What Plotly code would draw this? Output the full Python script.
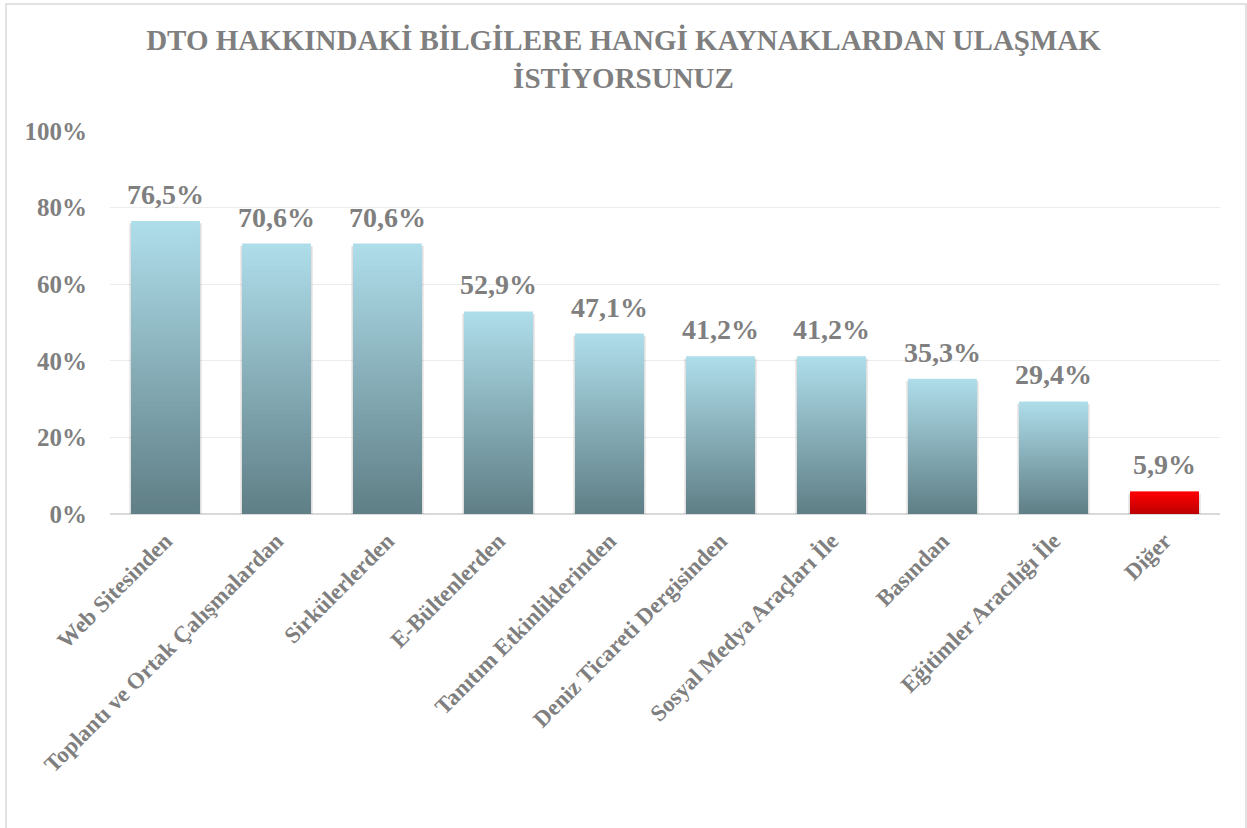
import plotly.graph_objects as go

categories = ["Web Sitesinden", "Toplantı ve Ortak Çalışmalardan", "Sirkülerlerden",
              "E-Bültenlerden", "Tanıtım Etkinliklerinden", "Deniz Ticareti Dergisinden",
              "Sosyal Medya Araçları İle", "Basından", "Eğitimler Aracılığı İle", "Diğer"]
values = [0.765, 0.706, 0.706, 0.529, 0.471, 0.412, 0.412, 0.353, 0.294, 0.059]
labels = ["76,5%", "70,6%", "70,6%", "52,9%", "47,1%", "41,2%", "41,2%", "35,3%", "29,4%", "5,9%"]

blue_top, blue_bot = (174, 221, 234), (96, 127, 134)
red_top, red_bot = (255, 0, 0), (190, 0, 0)
is_red = [c == "Diğer" for c in categories]

def lerp(a, b, t):
    return "rgb(%d,%d,%d)" % tuple(round(a[i] + (b[i] - a[i]) * t) for i in range(3))

GRAY = "#7f7f7f"
SERIF = "Liberation Serif"

fig = go.Figure()
# soft shadow behind bars
for w, a in [(0.66, 0.05), (0.645, 0.08)]:
    fig.add_trace(go.Bar(
        x=categories, y=values, base=-0.006, width=w,
        marker=dict(color="rgba(0,0,0,%s)" % a, line=dict(width=0)),
        showlegend=False, hoverinfo="skip", textposition="none",
    ))

N = 60
for k in range(N):
    t = k / (N - 1)
    frac = (N - k) / N
    cols = [lerp(red_top, red_bot, t) if r else lerp(blue_top, blue_bot, t) for r in is_red]
    fig.add_trace(go.Bar(
        x=categories, y=[v * frac for v in values],
        marker=dict(color=cols, line=dict(width=0)),
        width=0.62, showlegend=False, hoverinfo="skip",
        textposition="none",
    ))

for c, v, lab in zip(categories, values, labels):
    fig.add_annotation(x=c, y=v, text=lab, showarrow=False, yanchor="bottom", yshift=9,
                       font=dict(family=SERIF, size=28, color=GRAY, weight="bold"))

L, R, T, B = 110, 1220, 131, 514
H = B - T
W = R - L
fig.update_layout(
    barmode="overlay",
    width=1247, height=828,
    margin=dict(l=L, r=1247 - R, t=T, b=828 - B),
    paper_bgcolor="white", plot_bgcolor="white",
    font=dict(family=SERIF, color=GRAY),
    title=dict(text="DTO HAKKINDAKİ BİLGİLERE HANGİ KAYNAKLARDAN ULAŞMAK<br>İSTİYORSUNUZ",
               x=0.5, xanchor="center", y=1 - 50 / 828, yanchor="middle",
               font=dict(family=SERIF, size=29, color=GRAY, weight="bold")),
    xaxis=dict(tickangle=-45, showgrid=False, ticks="", showline=False, ticklabelstandoff=8,
               tickfont=dict(family=SERIF, size=23, color=GRAY, weight="bold")),
    yaxis=dict(range=[0, 1], dtick=0.2, tickformat=".0%", showgrid=True,
               gridcolor="#ececec", gridwidth=1, zeroline=True, zerolinecolor="#d9d9d9",
               zerolinewidth=2, ticks="", ticklabelstandoff=22,
               tickfont=dict(family=SERIF, size=25, color=GRAY, weight="bold")),
    shapes=[dict(type="rect", xref="paper", yref="paper",
                 x0=(6 - L) / W, x1=(1246 - L) / W,
                 y0=(B - 840) / H, y1=(B - 4) / H,
                 line=dict(color="#d9d9d9", width=1.5), fillcolor="rgba(0,0,0,0)",
                 layer="below")],
)
fig.write_html("out.html", post_script="document.body.style.margin='0';",
               config={"displayModeBar": False})
